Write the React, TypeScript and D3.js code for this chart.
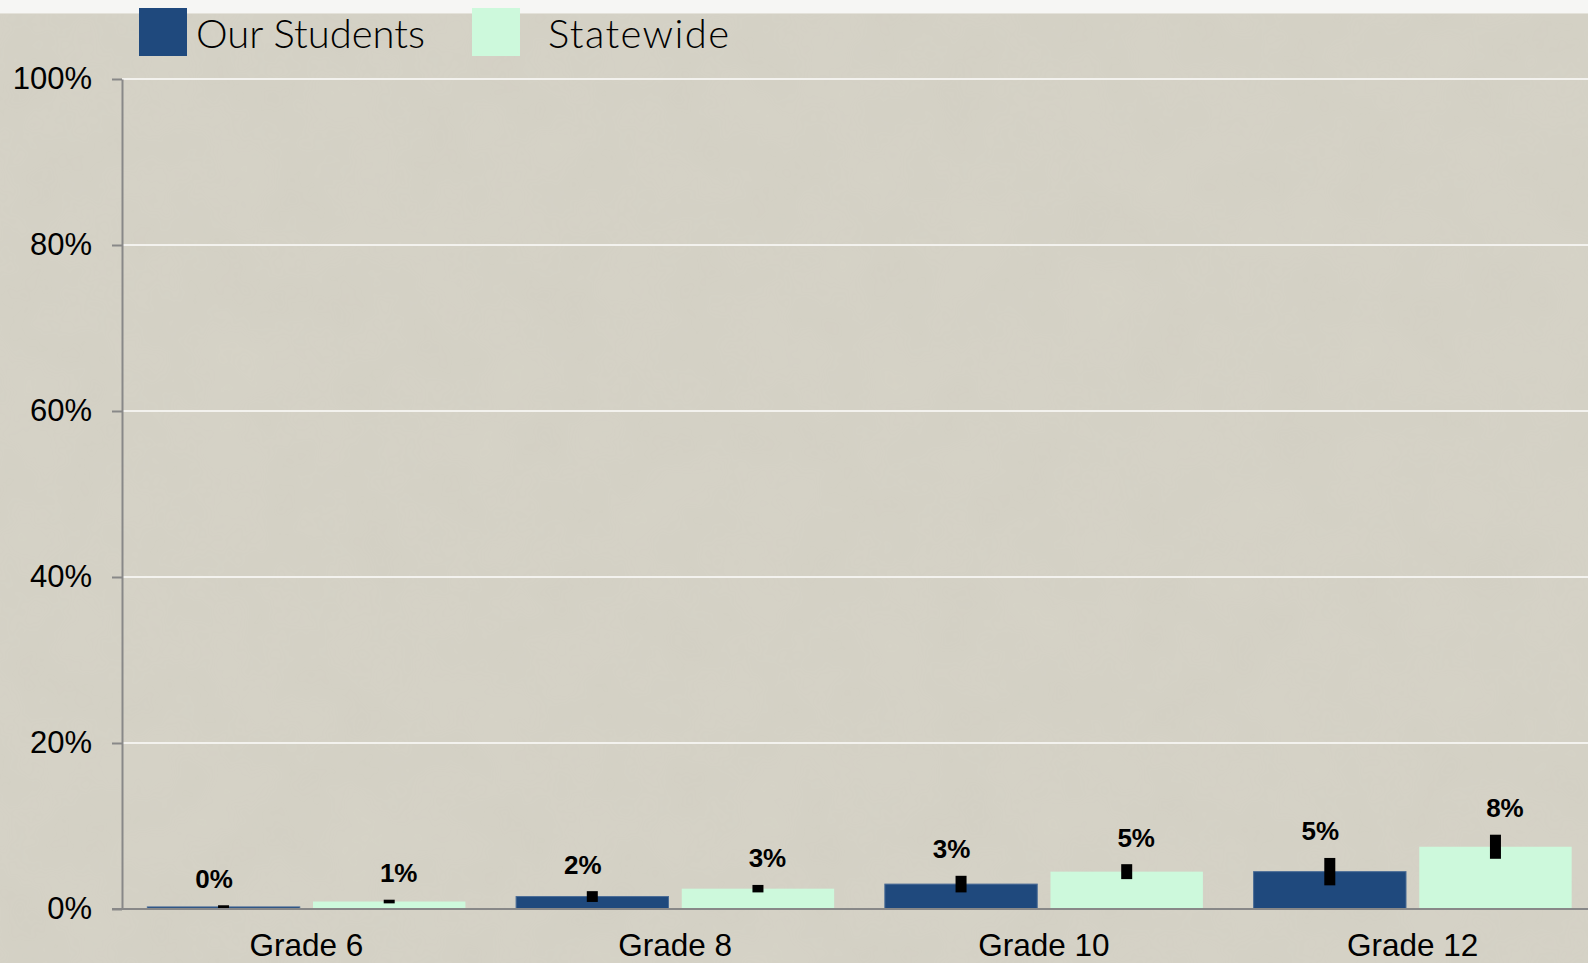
import React, { useEffect, useRef } from 'react';
import * as d3 from 'd3';

// chart values
const categories = ['Grade 6', 'Grade 8', 'Grade 10', 'Grade 12'];
const seriesNames = ['Our Students', 'Statewide'];
const ourStudents = [0.25, 1.5, 3.0, 4.5];
const statewide = [0.9, 2.45, 4.5, 7.5];
const ourStudentsErr = [0.2, 0.65, 1.0, 1.65];
const statewideErr = [0.22, 0.45, 0.9, 1.45];
const ourStudentsLabels = ['0%', '2%', '3%', '5%'];
const statewideLabels = ['1%', '3%', '5%', '8%'];
const yTicks = [0, 20, 40, 60, 80, 100];

const colors = { 'Our Students': '#1f497d', 'Statewide': '#cdf9dc' };
const W = 1588, H = 963;
const margin = { left: 122, top: 79, bottom: 909, right: 1597 };

function App() {
  const ref = useRef(null);

  useEffect(() => {
    let svg = d3.select(ref.current);
    let plot = svg.select('.plot');

    const x0 = d3.scaleBand().domain(categories).range([margin.left, margin.right]);
    const x1 = d3.scaleBand().domain(seriesNames).range([0, x0.bandwidth()])
      .paddingInner(0.08).paddingOuter(0.153);
    const y = d3.scaleLinear().domain([0, 100]).range([margin.bottom, margin.top]);

    let rows = categories.map((c, i) => ({
      cat: c,
      values: [
        { key: 'Our Students', v: ourStudents[i], e: ourStudentsErr[i], label: ourStudentsLabels[i], shift: -9.5 },
        { key: 'Statewide', v: statewide[i], e: statewideErr[i], label: statewideLabels[i], shift: 9.5 },
      ],
    }));

    // gridlines
    plot.selectAll('.grid').data(yTicks.filter(t => t > 0)).join('line')
      .attr('class', 'grid')
      .attr('x1', margin.left).attr('x2', W)
      .attr('y1', d => y(d)).attr('y2', d => y(d))
      .attr('stroke', '#f3f2ee').attr('stroke-width', 2);

    let groups = plot.selectAll('.cat_g').data(rows).join('g')
      .attr('class', 'cat_g')
      .attr('transform', d => `translate(${x0(d.cat)}, 0)`);

    groups.selectAll('.bar').data(d => d.values).join('rect')
      .attr('class', 'bar')
      .attr('x', d => x1(d.key))
      .attr('y', d => y(d.v))
      .attr('width', x1.bandwidth())
      .attr('height', d => y(0) - y(d.v))
      .attr('fill', d => colors[d.key])
      .attr('stroke', d => d.key === 'Our Students' ? '#4a6c96' : 'none')
      .attr('stroke-width', 1);

    groups.selectAll('.err').data(d => d.values).join('rect')
      .attr('class', 'err')
      .attr('x', d => x1(d.key) + x1.bandwidth() / 2 - 5.5)
      .attr('y', d => y(d.v + d.e))
      .attr('width', 11)
      .attr('height', d => y(Math.max(0, d.v - d.e)) - y(d.v + d.e))
      .attr('fill', '#000');

    groups.selectAll('.val').data(d => d.values).join('text')
      .attr('class', 'val')
      .text(d => d.label)
      .attr('x', d => x1(d.key) + x1.bandwidth() / 2 + d.shift)
      .attr('y', d => y(d.v + d.e) - 17.5)
      .attr('text-anchor', 'middle')
      .style('font-family', '"Liberation Sans", Arial, sans-serif')
      .style('font-size', '26px')
      .style('font-weight', 'bold')
      .attr('fill', '#000');

    // y axis
    let yAxis = plot.selectAll('.y_axis_g').data([0]).join('g')
      .attr('class', 'y_axis_g')
      .attr('transform', `translate(${margin.left}, 0)`)
      .call(d3.axisLeft(y).tickValues(yTicks).tickSize(10).tickSizeOuter(0).tickPadding(20)
        .tickFormat(d => d + '%'));
    yAxis.select('.domain').attr('stroke', '#888').attr('stroke-width', 2);
    yAxis.selectAll('.tick line').attr('stroke', '#888').attr('stroke-width', 2);
    yAxis.selectAll('.tick text')
      .style('font-family', '"Liberation Sans", Arial, sans-serif')
      .style('font-size', '31px')
      .attr('fill', '#000');

    // x axis line
    plot.selectAll('.x_line').data([0]).join('line')
      .attr('class', 'x_line')
      .attr('x1', margin.left - 10).attr('x2', W)
      .attr('y1', y(0)).attr('y2', y(0))
      .attr('stroke', '#888').attr('stroke-width', 2);

    // category labels sit right at the bottom edge, as in the original
    plot.selectAll('.cat_label').data(categories).join('text')
      .attr('class', 'cat_label')
      .text(d => d)
      .attr('x', d => x0(d) + x0.bandwidth() / 2)
      .attr('y', 956)
      .attr('text-anchor', 'middle')
      .style('font-family', '"Liberation Sans", Arial, sans-serif')
      .style('font-size', '31.5px')
      .attr('fill', '#000');

    // legend
    let legendPos = [
      { key: 'Our Students', x: 139, tx: 196, len: 229 },
      { key: 'Statewide', x: 472, tx: 548, len: 181 },
    ];
    let legend = svg.select('.legend');
    legend.selectAll('rect').data(legendPos).join('rect')
      .attr('x', d => d.x).attr('y', 8)
      .attr('width', 48).attr('height', 48)
      .attr('fill', d => colors[d.key]);
    legend.selectAll('text').data(legendPos).join('text')
      .text(d => d.key)
      .attr('x', d => d.tx).attr('y', 47.5)
      .attr('textLength', d => d.len)
      .attr('lengthAdjust', 'spacing')
      .style('font-family', 'Lato, "Open Sans", sans-serif')
      .style('font-size', '40px')
      .style('font-weight', 300)
      .attr('fill', '#000');
  }, []);

  return (
    <svg ref={ref} width={W} height={H}
      style={{ position: 'fixed', left: 0, top: 0, display: 'block' }}>
      <defs>
        <filter id="paper" x="0" y="0" width="100%" height="100%">
          <feTurbulence type="fractalNoise" baseFrequency="0.015" numOctaves="4" seed="3" />
          <feColorMatrix type="matrix" values="0 0 0 0 0.45  0 0 0 0 0.43  0 0 0 0 0.38  0 0 0 0.35 0" />
        </filter>
      </defs>
      <rect x={0} y={0} width={W} height={H} fill="#d6d3c7" />
      <rect x={0} y={0} width={W} height={H} fill="#000" filter="url(#paper)" opacity={0.25} />
      <rect x={0} y={0} width={W} height={13} fill="#f6f6f4" />
      <line x1={0} x2={W} y1={13.5} y2={13.5} stroke="#e4e2da" strokeWidth={1} />
      <g className="plot"></g>
      <g className="legend"></g>
    </svg>
  );
}

export default App;
